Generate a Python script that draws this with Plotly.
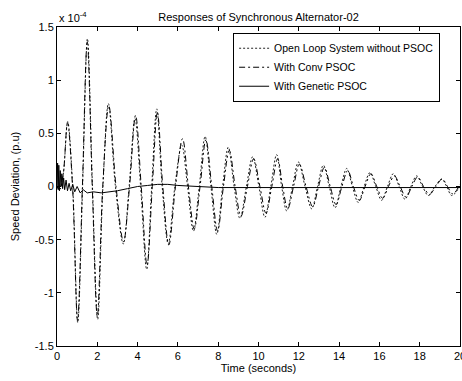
import plotly.graph_objects as go

# Values in units of 1e-4 p.u.
# Open loop system without PSOC: extrema and crossings
open_t = [0, 0.12, 0.3, 0.53, 0.78, 1.03, 1.27, 1.51, 1.76, 2.02, 2.28, 2.55, 2.9, 3.29, 3.58, 3.87,
          4.15, 4.45, 4.7, 4.95, 5.22, 5.52, 5.85, 6.19, 6.48, 6.77, 7.06, 7.35, 7.64, 7.93, 8.22,
          8.5, 8.79, 9.08, 9.4, 9.71, 10.02, 10.32, 10.61, 10.9, 11.15, 11.4, 11.69, 11.98, 12.31,
          12.64, 12.93, 13.22, 13.51, 13.8, 14.09, 14.38, 14.66, 14.95, 15.24, 15.53, 15.82, 16.11,
          16.4, 16.69, 16.98, 17.27, 17.56, 17.85, 18.14, 18.43, 18.76, 19.09, 19.34, 19.59, 20.0]
open_v = [0, -0.03, 0.1, 0.61, 0, -1.28, 0, 1.39, 0, -1.25, 0, 0.78, 0, -0.54, 0, 0.64,
          0, -0.78, 0, 0.73, 0, -0.54, 0, 0.39, 0, -0.42, 0, 0.47, 0, -0.45, 0,
          0.37, 0, -0.30, 0, 0.28, 0, -0.29, 0, 0.30, 0, -0.23, 0, 0.23, 0,
          -0.21, 0, 0.20, 0, -0.20, 0, 0.17, 0, -0.15, 0, 0.13, 0, -0.13,
          0, 0.12, 0, -0.12, 0, 0.10, 0, -0.085, 0, 0.07, 0, -0.085, 0.0]

# With Conv PSOC
conv_t = [0, 0.12, 0.3, 0.52, 0.77, 1.02, 1.26, 1.5, 1.75, 2.0, 2.27, 2.57, 2.93, 3.3, 3.6, 3.9,
          4.18, 4.47, 4.73, 4.98, 5.25, 5.55, 5.88, 6.23, 6.52, 6.81, 7.1, 7.39, 7.68, 7.97, 8.26,
          8.55, 8.84, 9.13, 9.45, 9.76, 10.07, 10.37, 10.66, 10.95, 11.2, 11.45, 11.74, 12.03, 12.36,
          12.69, 12.98, 13.27, 13.56, 13.85, 14.14, 14.43, 14.71, 15.0, 15.29, 15.58, 15.87, 16.16,
          16.45, 16.74, 17.03, 17.32, 17.61, 17.9, 18.19, 18.48, 18.8, 19.12, 19.38, 19.64, 20.0]
conv_v = [0, -0.03, 0.1, 0.6, 0, -1.26, 0, 1.36, 0, -1.22, 0, 0.76, 0, -0.52, 0, 0.67,
          0, -0.74, 0, 0.70, 0, -0.55, 0, 0.45, 0, -0.40, 0, 0.44, 0, -0.42, 0,
          0.34, 0, -0.28, 0, 0.26, 0, -0.25, 0, 0.26, 0, -0.21, 0, 0.21, 0,
          -0.19, 0, 0.18, 0, -0.17, 0, 0.15, 0, -0.13, 0, 0.12, 0, -0.11,
          0, 0.10, 0, -0.10, 0, 0.09, 0, -0.075, 0, 0.07, 0, -0.07, 0.02]

# With Genetic PSOC
gen_t = [0, 0.03, 0.06, 0.09, 0.12, 0.16, 0.2, 0.24, 0.28, 0.33, 0.38, 0.45, 0.52, 0.6, 0.68, 0.78,
         0.88, 1.0, 1.15, 1.3, 1.5, 1.8, 2.2, 2.6, 3.0, 3.5, 4.0, 4.5, 5.0, 5.5, 6.0, 7.0, 8.0,
         10.0, 12.0, 14.0, 16.0, 18.0, 20.0]
gen_v = [0, 0.22, -0.03, 0.2, -0.04, 0.15, 0.0, 0.12, -0.02, 0.08, -0.03, 0.06, -0.04, 0.03, -0.04, 0.02,
         -0.05, 0.0, -0.06, -0.03, -0.06, -0.05, -0.06, -0.05, -0.04, -0.02, 0.0, 0.01, 0.02, 0.02, 0.01, 0.0, -0.01,
         -0.01, -0.01, -0.01, -0.01, -0.01, -0.01]

x_ticks = [0, 2, 4, 6, 8, 10, 12, 14, 16, 18, 20]
y_ticks = [-1.5, -1, -0.5, 0, 0.5, 1, 1.5]
y_labels = ["-1.5", "-1", "-0.5", "0", "0.5", "1", "1.5"]

FONT = "Liberation Sans, Arial, Helvetica, sans-serif"

fig = go.Figure()
fig.add_trace(go.Scatter(x=open_t, y=open_v, mode="lines", name="Open Loop System without PSOC",
                         line=dict(color="#222222", width=1, dash="2px,2px", shape="spline", smoothing=1.0)))
fig.add_trace(go.Scatter(x=conv_t, y=conv_v, mode="lines", name="With Conv PSOC",
                         line=dict(color="black", width=1, dash="6px,3px,2px,3px", shape="spline", smoothing=1.0)))
fig.add_trace(go.Scatter(x=gen_t, y=gen_v, mode="lines", name="With Genetic PSOC",
                         line=dict(color="black", width=1)))

axis_common = dict(showgrid=False, zeroline=False, showline=True, linecolor="black", linewidth=1,
                   mirror="ticks", ticks="inside", ticklen=4, tickcolor="black",
                   ticklabeloverflow="allow", automargin=False,
                   tickfont=dict(family=FONT, size=11, color="black"))

fig.update_layout(
    width=462, height=381,
    margin=dict(l=57, r=2, t=27, b=35, autoexpand=False),
    paper_bgcolor="white", plot_bgcolor="white",
    font=dict(family=FONT, size=11, color="black"),
    title=dict(text="Responses of Synchronous Alternator-02", x=0.5, xref="paper",
               y=1, yref="paper", yanchor="bottom", pad=dict(b=6),
               font=dict(family=FONT, size=11, color="black")),
    xaxis=dict(range=[0, 20], tickvals=x_ticks, ticktext=[str(v) for v in x_ticks],
               title=dict(text="Time (seconds)", standoff=2, font=dict(family=FONT, size=11)),
               **axis_common),
    yaxis=dict(range=[-1.5, 1.5], tickvals=y_ticks, ticktext=y_labels,
               title=dict(text="Speed Deviation, (p.u)", standoff=12, font=dict(family=FONT, size=11)),
               **axis_common),
    legend=dict(x=0.437, y=0.982, xanchor="left", yanchor="top", bgcolor="white",
                bordercolor="black", borderwidth=1, font=dict(family=FONT, size=10.5, color="black"),
                tracegroupgap=0, itemwidth=30),
    showlegend=True,
)

fig.add_annotation(text="x 10<sup>-4</sup>", xref="paper", yref="paper", x=0, y=1,
                   xanchor="left", yanchor="bottom", showarrow=False, yshift=1,
                   font=dict(family=FONT, size=11, color="black"))

fig.write_html("out.html")
